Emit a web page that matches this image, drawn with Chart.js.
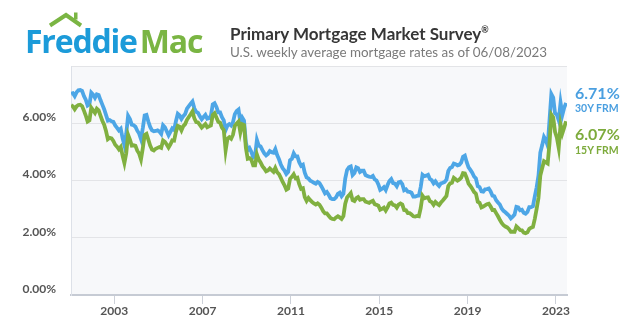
<!DOCTYPE html>
<html>
<head>
<meta charset="utf-8">
<script src="https://cdn.jsdelivr.net/npm/chart.js@4.4.0/dist/chart.umd.min.js"></script>
<style>
  html, body { margin: 0; padding: 0; background: #fff; }
  .wrap { position: relative; width: 640px; height: 328px; overflow: hidden; font-family: Lato, sans-serif; }
  #chart { position: absolute; left: 0; top: 0; }
  .roof { position: absolute; left: 0; top: 0; }
  .logo { position: absolute; left: 25px; top: 25px; font-family: "Open Sans", sans-serif; font-weight: 700;
          font-size: 32px; line-height: 32px; letter-spacing: -1.2px; white-space: nowrap; }
  .logo .fr { color: #1c9bd9; }
  .logo .mac { color: #7ab543; margin-left: 3px; }
  .title { position: absolute; left: 230px; top: 19px; font-weight: 700; font-size: 17px; line-height: 22px; color: #363636; white-space: nowrap; }
  .title sup { font-size: 9px; vertical-align: 7px; }
  .sub { position: absolute; left: 230px; top: 43px; font-size: 13.4px; line-height: 18px; color: #7a7a7a; white-space: nowrap; }
  .tag { position: absolute; left: 575px; font-weight: 700; white-space: nowrap; }
  .big { font-size: 16px; line-height: 18px; }
  .small { font-size: 10.5px; line-height: 12px; }
</style>
</head>
<body>
<div class="wrap">
  <canvas id="chart" width="640" height="328"></canvas>
  <svg class="roof" width="100" height="40">
    <polyline points="50,25.5 66,15 81,25.5" fill="none" stroke="#7ab543" stroke-width="4" />
    <rect x="74" y="12.5" width="3.5" height="7" fill="#7ab543" />
  </svg>
  <div class="logo"><span class="fr">Freddie</span><span class="mac">Mac</span></div>
  <div class="title">Primary Mortgage Market Survey<sup>®</sup></div>
  <div class="sub">U.S. weekly average mortgage rates as of 06/08/2023</div>
  <div class="tag big" id="v30" style="top:84px;color:#4a9fe0"></div>
  <div class="tag small" id="n30" style="top:102px;color:#4a9fe0"></div>
  <div class="tag big" id="v15" style="top:125px;color:#7dab3c"></div>
  <div class="tag small" id="n15" style="top:144px;color:#7dab3c"></div>
</div>
<script>
// monthly readings, Jan 2001 .. Jun 2023
const startYear = 2001;

const rate30y = [
  7.03, 7.05, 6.95, 7.08, 7.15, 7.16, 7.13, 6.95, 6.82, 6.62, 6.66, 7.07, // 2001
  7.00, 6.89, 7.01, 6.99, 6.81, 6.65, 6.49, 6.29, 6.09, 6.11, 6.07, 6.05, // 2002
  5.92, 5.84, 5.75, 5.81, 5.48, 5.23, 5.63, 6.26, 6.15, 5.95, 5.93, 5.88, // 2003
  5.74, 5.64, 5.45, 5.83, 6.27, 6.29, 6.06, 5.87, 5.75, 5.72, 5.73, 5.75, // 2004
  5.71, 5.63, 5.93, 5.86, 5.72, 5.58, 5.70, 5.82, 5.77, 6.07, 6.33, 6.27, // 2005
  6.15, 6.25, 6.32, 6.51, 6.60, 6.68, 6.76, 6.52, 6.40, 6.36, 6.24, 6.14, // 2006
  6.22, 6.29, 6.16, 6.18, 6.26, 6.66, 6.70, 6.57, 6.38, 6.38, 6.21, 6.10, // 2007
  5.76, 5.92, 5.97, 5.92, 6.04, 6.32, 6.43, 6.48, 6.04, 6.20, 6.09, 5.33, // 2008
  5.06, 5.13, 5.00, 4.81, 4.86, 5.42, 5.22, 5.19, 5.06, 4.95, 4.88, 4.93, // 2009
  5.03, 4.99, 4.97, 5.10, 4.89, 4.74, 4.56, 4.43, 4.35, 4.23, 4.30, 4.71, // 2010
  4.76, 4.95, 4.84, 4.84, 4.64, 4.51, 4.55, 4.27, 4.11, 4.07, 3.99, 3.96, // 2011
  3.92, 3.89, 3.95, 3.91, 3.80, 3.68, 3.55, 3.60, 3.50, 3.38, 3.35, 3.35, // 2012
  3.41, 3.53, 3.57, 3.45, 3.54, 4.07, 4.37, 4.46, 4.49, 4.19, 4.26, 4.46, // 2013
  4.43, 4.30, 4.34, 4.34, 4.19, 4.16, 4.13, 4.12, 4.16, 4.04, 4.00, 3.86, // 2014
  3.67, 3.71, 3.77, 3.67, 3.84, 3.98, 4.05, 3.91, 3.89, 3.80, 3.94, 3.96, // 2015
  3.87, 3.66, 3.69, 3.61, 3.60, 3.57, 3.44, 3.44, 3.46, 3.47, 3.77, 4.20, // 2016
  4.15, 4.17, 4.20, 4.05, 4.01, 3.90, 3.97, 3.88, 3.81, 3.90, 3.92, 3.95, // 2017
  4.03, 4.33, 4.44, 4.47, 4.59, 4.57, 4.53, 4.55, 4.63, 4.83, 4.87, 4.64, // 2018
  4.46, 4.37, 4.27, 4.14, 4.07, 3.80, 3.77, 3.62, 3.61, 3.69, 3.70, 3.72, // 2019
  3.62, 3.47, 3.45, 3.31, 3.23, 3.16, 3.02, 2.94, 2.89, 2.83, 2.77, 2.68, // 2020
  2.74, 2.81, 3.08, 3.06, 2.96, 2.98, 2.87, 2.84, 2.90, 3.07, 3.07, 3.10, // 2021
  3.45, 3.76, 4.17, 4.98, 5.23, 5.52, 5.41, 5.22, 6.11, 7.02, 6.90, 6.35, // 2022
  6.30, 6.10, 6.72, 6.30, 6.55, 6.71                                      // 2023
];

const rate15y = [
  6.63, 6.59, 6.49, 6.59, 6.64, 6.65, 6.60, 6.44, 6.27, 6.06, 6.10, 6.54, // 2001
  6.45, 6.36, 6.51, 6.45, 6.27, 6.09, 5.95, 5.73, 5.44, 5.49, 5.47, 5.38, // 2002
  5.25, 5.18, 5.09, 5.17, 4.87, 4.61, 4.95, 5.60, 5.43, 5.22, 5.23, 5.21, // 2003
  5.04, 4.94, 4.74, 5.13, 5.59, 5.63, 5.43, 5.22, 5.08, 5.05, 5.11, 5.14, // 2004
  5.17, 5.14, 5.40, 5.35, 5.26, 5.15, 5.26, 5.40, 5.39, 5.70, 5.91, 5.88, // 2005
  5.75, 5.90, 5.97, 6.12, 6.22, 6.31, 6.41, 6.17, 6.04, 6.03, 5.94, 5.85, // 2006
  5.91, 5.97, 5.86, 5.89, 5.92, 6.29, 6.35, 6.20, 6.05, 6.02, 5.85, 5.76, // 2007
  5.05, 5.46, 5.51, 5.46, 5.60, 5.91, 5.99, 6.06, 5.68, 5.97, 5.94, 5.14, // 2008
  4.76, 4.78, 4.72, 4.53, 4.53, 4.91, 4.73, 4.63, 4.50, 4.42, 4.32, 4.35, // 2009
  4.42, 4.36, 4.30, 4.44, 4.29, 4.22, 4.09, 3.95, 3.83, 3.68, 3.72, 4.06, // 2010
  4.13, 4.22, 4.08, 4.10, 3.87, 3.71, 3.73, 3.42, 3.29, 3.39, 3.31, 3.25, // 2011
  3.20, 3.16, 3.20, 3.15, 3.05, 2.93, 2.85, 2.85, 2.77, 2.69, 2.66, 2.65, // 2012
  2.71, 2.75, 2.71, 2.66, 2.76, 3.19, 3.41, 3.48, 3.56, 3.31, 3.28, 3.38, // 2013
  3.42, 3.33, 3.35, 3.35, 3.26, 3.24, 3.22, 3.26, 3.29, 3.17, 3.15, 3.12, // 2014
  2.98, 3.01, 3.05, 2.95, 3.06, 3.20, 3.23, 3.15, 3.13, 3.05, 3.16, 3.20, // 2015
  3.16, 2.97, 2.96, 2.86, 2.86, 2.81, 2.75, 2.74, 2.76, 2.75, 3.03, 3.47, // 2016
  3.38, 3.40, 3.41, 3.28, 3.24, 3.15, 3.25, 3.19, 3.14, 3.23, 3.30, 3.38, // 2017
  3.46, 3.81, 3.90, 3.92, 4.09, 4.04, 3.99, 4.03, 4.10, 4.26, 4.25, 4.09, // 2018
  3.89, 3.81, 3.71, 3.60, 3.54, 3.26, 3.22, 3.06, 3.09, 3.13, 3.17, 3.19, // 2019
  3.09, 2.97, 2.97, 2.86, 2.75, 2.63, 2.52, 2.44, 2.39, 2.36, 2.30, 2.21, // 2020
  2.21, 2.21, 2.40, 2.34, 2.27, 2.26, 2.18, 2.16, 2.19, 2.31, 2.35, 2.38, // 2021
  2.66, 3.01, 3.39, 4.17, 4.43, 4.67, 4.63, 4.59, 5.31, 6.30, 6.20, 5.70, // 2022
  5.50, 5.14, 5.95, 5.65, 5.85, 6.07                                      // 2023
];

const xTickYears = [2003, 2007, 2011, 2015, 2019, 2023];
const yTickValues = [0, 2, 4, 6];
const seriesNames = ['30Y FRM', '15Y FRM'];

const blue = '#4da6e6';
const green = '#80b040';

function toPoints(values) {
  return values.map((v, i) => ({ x: startYear + (i + 0.5) / 12, y: v }));
}

document.getElementById('v30').textContent = rate30y[rate30y.length - 1].toFixed(2) + '%';
document.getElementById('n30').textContent = seriesNames[0];
document.getElementById('v15').textContent = rate15y[rate15y.length - 1].toFixed(2) + '%';
document.getElementById('n15').textContent = seriesNames[1];

const panelBg = {
  id: 'panelBg',
  beforeDraw(chart) {
    const { ctx, chartArea: a } = chart;
    ctx.save();
    ctx.fillStyle = '#f7f8fa';
    ctx.fillRect(a.left, a.top, a.right - a.left, a.bottom - a.top);
    ctx.restore();
  }
};

const ctx = document.getElementById('chart').getContext('2d');
new Chart(ctx, {
  type: 'line',
  data: {
    datasets: [
      {
        label: seriesNames[1],
        data: toPoints(rate15y),
        borderColor: green,
        borderWidth: 3.8,
        pointRadius: 0,
        tension: 0,
        fill: false,
      },
      {
        label: seriesNames[0],
        data: toPoints(rate30y),
        borderColor: blue,
        borderWidth: 3.8,
        pointRadius: 0,
        tension: 0,
        fill: false,
      },
    ],
  },
  options: {
    responsive: false,
    animation: false,
    layout: { padding: { top: 66, right: 73, left: 0, bottom: 0 } },
    plugins: {
      legend: { display: false },
      tooltip: { enabled: false },
    },
    scales: {
      x: {
        type: 'linear',
        min: startYear + 0.04,
        max: 2023.5,
        afterBuildTicks: (scale) => {
          scale.ticks = xTickYears.map((v) => ({ value: v }));
        },
        afterFit: (scale) => { scale.height = 33; },
        grid: { drawOnChartArea: false, drawTicks: true, tickLength: 9, color: '#cdd1d9', lineWidth: 1 },
        border: { display: true, color: '#c6cbd4', width: 2 },
        ticks: {
          padding: 0,
          maxRotation: 0,
          color: '#555',
          font: { family: 'Lato', size: 12, weight: 'bold' },
          callback: (v) => String(v),
        },
      },
      y: {
        min: 0,
        max: 8,
        afterBuildTicks: (scale) => {
          scale.ticks = yTickValues.concat([8]).map((v) => ({ value: v }));
        },
        afterFit: (scale) => { scale.width = 71; },
        grid: { drawTicks: false, color: '#e3e4e7', lineWidth: 1 },
        border: { display: true, color: '#dde1e8', width: 1 },
        ticks: {
          padding: 15,
          labelOffset: -6,
          color: '#555',
          font: { family: 'Lato', size: 12, weight: 'bold' },
          callback: (v) => (yTickValues.includes(v) ? v.toFixed(2) + '%' : ''),
        },
      },
    },
  },
  plugins: [panelBg],
});
</script>
</body>
</html>
